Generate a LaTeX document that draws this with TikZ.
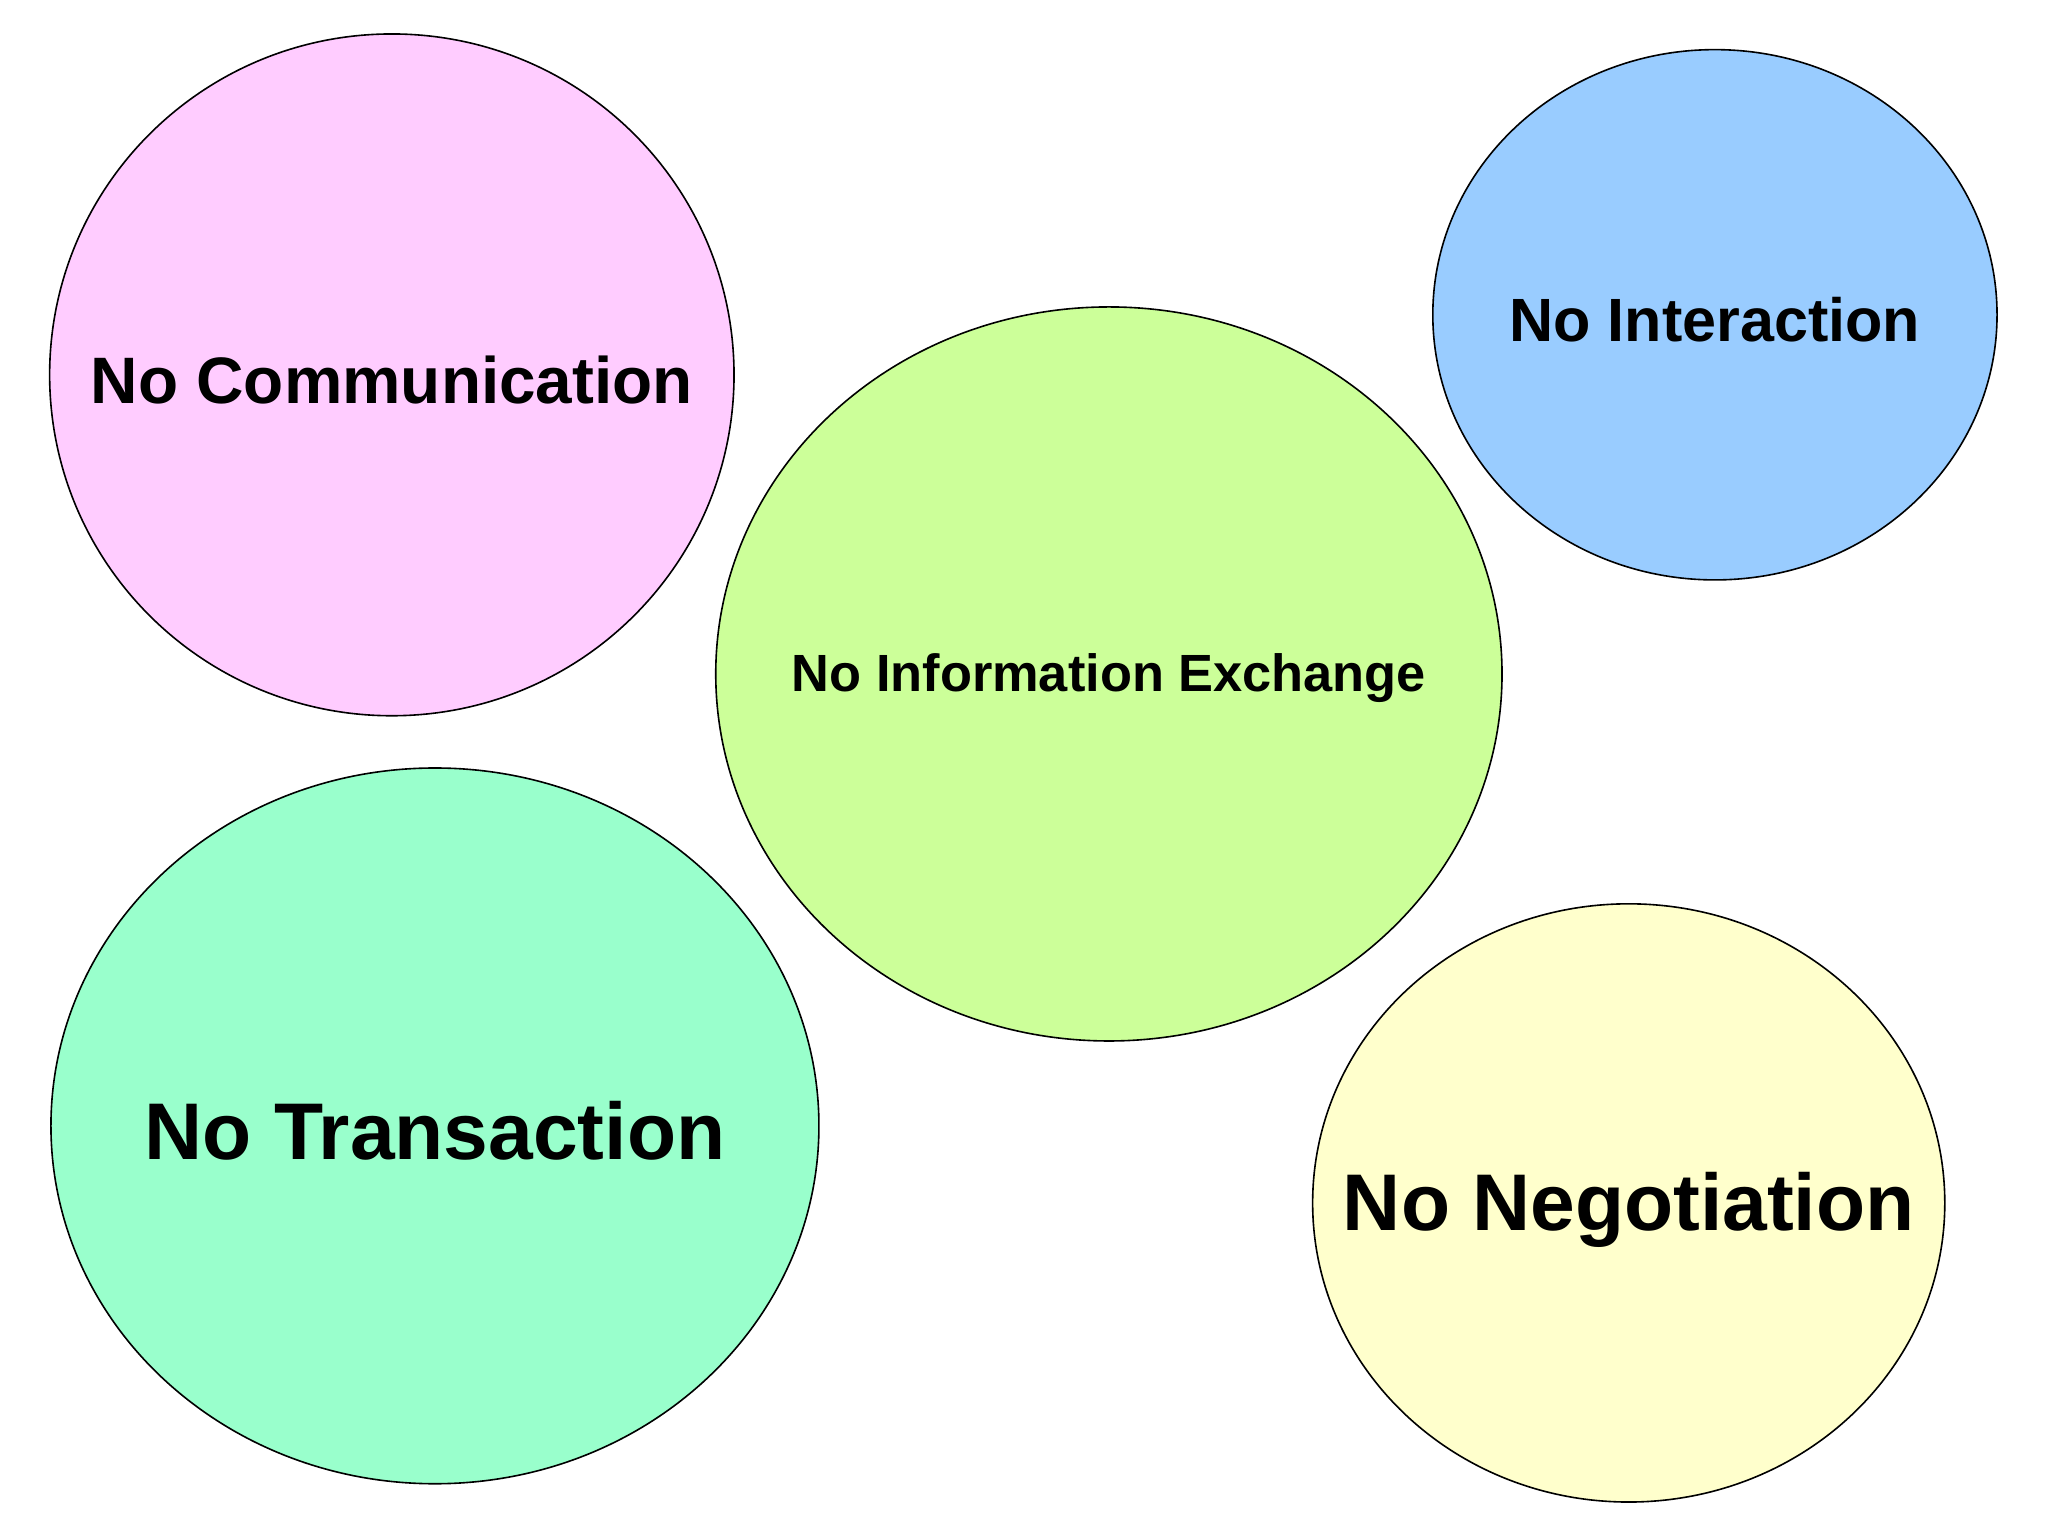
\documentclass[tikz,border=0pt]{standalone}
\usepackage{fontspec}
\setmainfont{Liberation Sans}
\begin{document}
\begin{tikzpicture}[x=0.01cm,y=-0.01cm,
  blob/.style={draw=black,line width=0.35pt}]
\useasboundingbox (0,0) rectangle (1568,1176);
\fill[white] (0,0) rectangle (1568,1176);
\filldraw[blob,fill={rgb,255:red,255;green,204;blue,255}] (300,287) ellipse [x radius=262,y radius=261];
\filldraw[blob,fill={rgb,255:red,204;green,255;blue,153}] (849,516) ellipse [x radius=301,y radius=281];
\filldraw[blob,fill={rgb,255:red,153;green,204;blue,255}] (1313,241) ellipse [x radius=216,y radius=203];
\filldraw[blob,fill={rgb,255:red,153;green,255;blue,204}] (333,862) ellipse [x radius=294,y radius=274];
\filldraw[blob,fill={rgb,255:red,255;green,255;blue,204}] (1247,921) ellipse [x radius=242,y radius=229];
\node[font=\fontsize{14.3pt}{16pt}\selectfont\bfseries] (c) at (300,291) {No Communication};
\node[font=\fontsize{11.4pt}{13pt}\selectfont\bfseries] (i) at (849,519) {No Information Exchange};
\node[font=\fontsize{13.3pt}{15pt}\selectfont\bfseries] (n) at (1313,245) {No Interaction};
\node[font=\fontsize{17.5pt}{20pt}\selectfont\bfseries] (t) at (333,866) {No Transaction};
\node[font=\fontsize{17.5pt}{20pt}\selectfont\bfseries] (g) at (1247,926) {No Negotiation};
\end{tikzpicture}
\end{document}
